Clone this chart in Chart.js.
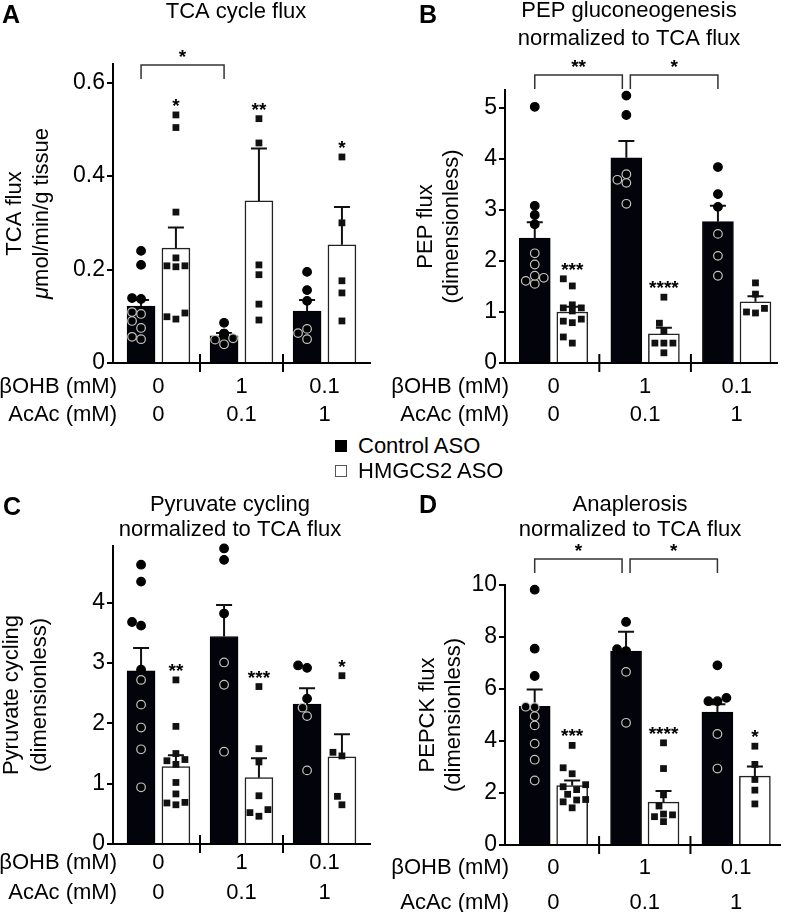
<!DOCTYPE html>
<html>
<head>
<meta charset="utf-8">
<script src="https://cdn.jsdelivr.net/npm/chart.js@4.4.1/dist/chart.umd.min.js"></script>
<style>
  body { margin: 0; background: #fff; width: 787px; height: 912px; position: relative; overflow: hidden;
         font-family: 'Liberation Sans', Arial, Helvetica, sans-serif; }
  canvas { position: absolute; }
  .leg { position: absolute; left: 335px; height: 25px; font-size: 22px; color: #000;
         display: flex; align-items: center; }
  .sq { width: 12px; height: 12px; margin-right: 11px; box-sizing: border-box; }
</style>
</head>
<body>
<canvas id="chartA" width="390" height="430" style="left:0;top:0"></canvas>
<canvas id="chartB" width="397" height="430" style="left:390px;top:0"></canvas>
<canvas id="chartC" width="390" height="432" style="left:0;top:480px"></canvas>
<canvas id="chartD" width="397" height="432" style="left:390px;top:480px"></canvas>
<div class="leg" style="top:433px"><span class="sq" style="background:#000"></span>Control ASO</div>
<div class="leg" style="top:458px"><span class="sq" style="background:#fff;border:1.5px solid #555"></span>HMGCS2 ASO</div>

<script>
const FONT = "'Liberation Sans', Arial, Helvetica, sans-serif";

// x categories (two label rows under each panel)
const groupsOHB  = ['0', '1', '0.1'];
const groupsAcAc = ['0', '0.1', '1'];

// A - TCA cycle flux
const tcaTicks   = [0, 0.2, 0.4, 0.6];
const tcaCtlMean = [0.122, 0.058, 0.111];
const tcaCtlSem  = [0.013, 0.006, 0.024];
const tcaAsoMean = [0.246, 0.347, 0.253];
const tcaAsoSem  = [0.044, 0.112, 0.081];
const tcaCtlPts  = [[0.24, 0.21, 0.137, 0.139, 0.105, 0.109, 0.09, 0.075, 0.051, 0.056],
                    [0.086, 0.063, 0.061, 0.063, 0.053, 0.05, 0.04],
                    [0.195, 0.156, 0.133, 0.073, 0.064, 0.051]];
const tcaAsoPts  = [[0.531, 0.504, 0.323, 0.225, 0.208, 0.206, 0.208, 0.107, 0.094, 0.099],
                    [0.523, 0.471, 0.21, 0.189, 0.126, 0.092],
                    [0.441, 0.3, 0.176, 0.15, 0.09]];
const tcaStars    = ['*', '**', '*'];
const tcaBrackets = [[0, 1, '*']];

// B - PEP gluconeogenesis / TCA
const pepTicks   = [0, 1, 2, 3, 4, 5];
const pepCtlMean = [2.45, 4.02, 2.77];
const pepCtlSem  = [0.31, 0.33, 0.31];
const pepAsoMean = [1.0, 0.57, 1.2];
const pepAsoSem  = [0.1, 0.12, 0.11];
const pepCtlPts  = [[5.02, 3.08, 2.9, 2.72, 2.15, 1.93, 1.67, 1.55, 1.61, 1.71],
                    [5.24, 4.86, 3.59, 3.53, 3.7, 3.12],
                    [3.84, 3.31, 3.06, 2.53, 2.1, 1.71]];
const pepAsoPts  = [[1.65, 1.51, 1.08, 1.02, 1.08, 1.14, 0.82, 0.79, 0.86, 0.39, 0.51],
                    [1.29, 0.78, 0.63, 0.39, 0.39, 0.39, 0.2],
                    [1.57, 1.35, 1.07, 0.98, 1.0]];
const pepStars    = ['***', '****', ''];
const pepBrackets = [[0, 1, '**'], [1, 2, '*']];

// C - Pyruvate cycling / TCA
const pyrTicks   = [0, 1, 2, 3, 4];
const pyrCtlMean = [2.87, 3.44, 2.32];
const pyrCtlSem  = [0.38, 0.52, 0.26];
const pyrAsoMean = [1.285, 1.1, 1.445];
const pyrAsoSem  = [0.185, 0.32, 0.375];
const pyrCtlPts  = [[4.63, 4.35, 3.68, 3.62, 2.89, 2.72, 2.31, 1.93, 1.57, 0.94],
                    [4.71, 4.9, 3.82, 3.01, 2.64, 1.53],
                    [2.96, 2.92, 2.41, 2.26, 2.12, 1.22]];
const pyrAsoPts  = [[2.72, 1.95, 1.4, 1.32, 1.38, 1.5, 1.02, 0.83, 0.69, 0.65, 0.68],
                    [2.61, 1.58, 1.36, 0.8, 0.57, 0.46, 0.52],
                    [2.79, 1.52, 1.46, 0.79, 0.65]];
const pyrStars    = ['**', '***', '*'];
const pyrBrackets = [];

// D - Anaplerosis / TCA
const pckTicks   = [0, 2, 4, 6, 8, 10];
const pckCtlMean = [5.33, 7.46, 5.11];
const pckCtlSem  = [0.65, 0.74, 0.3];
const pckAsoMean = [2.29, 1.65, 2.65];
const pckAsoSem  = [0.19, 0.43, 0.37];
const pckCtlPts  = [[9.82, 7.55, 6.5, 5.3, 5.32, 4.95, 4.6, 3.9, 3.28, 2.48],
                    [10.36, 8.58, 7.46, 7.53, 6.66, 4.7],
                    [6.91, 5.66, 5.53, 5.53, 4.27, 2.94]];
const pckAsoPts  = [[3.83, 2.97, 2.74, 2.32, 2.13, 2.24, 1.95, 1.73, 1.75, 1.66, 1.43],
                    [3.93, 2.94, 1.93, 1.5, 1.16, 0.9, 1.09, 1.19],
                    [3.8, 3.1, 2.52, 2.11, 1.58]];
const pckStars    = ['***', '****', '*'];
const pckBrackets = [[0, 1, '*'], [1, 2, '*']];

const panels = {};

// spreads the dots of one bar sideways so they don't sit on top of each other
function swarm(chart) {
    chart.data.datasets.forEach((ds, i) => {
        if (ds.type !== 'scatter') return;
        const els = chart.getDatasetMeta(i).data;
        const byGroup = {};
        els.forEach((el, j) => {
            const g = Math.round(ds.data[j].x);
            (byGroup[g] = byGroup[g] || []).push(el);
        });
        Object.values(byGroup).forEach(list => {
            const placed = [];
            list.slice().sort((a, b) => b.y - a.y).forEach(el => {
                const cx = el.x;
                for (const k of [0, -1, 1, -2, 2, -3, 3]) {
                    const x = cx + k * 4.5;
                    if (placed.every(q => Math.hypot(q.x - x, q.y - el.y) >= 8.5)) { el.x = x; break; }
                }
                placed.push(el);
            });
        });
    });
}

const decor = {
    id: 'decor',
    afterDatasetsUpdate(chart) {
        swarm(chart);
    },
    afterDatasetDraw(chart, args) {
        if (args.meta.type !== 'bar') return;
        const p = panels[chart.canvas.id];
        const mean = args.index === 2 ? p.ctlMean : p.asoMean;
        const sem = args.index === 2 ? p.ctlSem : p.asoSem;
        const ctx = chart.ctx, y = chart.scales.y;
        ctx.save();
        ctx.strokeStyle = '#111';
        ctx.lineWidth = 2;
        args.meta.data.forEach((el, g) => {
            const top = y.getPixelForValue(mean[g] + sem[g]);
            ctx.beginPath();
            ctx.moveTo(el.x, el.y);
            ctx.lineTo(el.x, top);
            ctx.moveTo(el.x - 8, top);
            ctx.lineTo(el.x + 8, top);
            ctx.stroke();
        });
        ctx.restore();
    },
    afterDraw(chart) {
        const p = panels[chart.canvas.id];
        const ctx = chart.ctx, area = chart.chartArea;
        const x = chart.scales.x, y = chart.scales.y;
        ctx.save();
        ctx.fillStyle = '#000';
        ctx.strokeStyle = '#000';

        // panel letter
        ctx.font = `bold 25px ${FONT}`;
        ctx.textAlign = 'left';
        ctx.textBaseline = 'alphabetic';
        ctx.fillText(p.letter, p.letterPos[0], p.letterPos[1]);

        // title
        ctx.font = `22px ${FONT}`;
        ctx.textAlign = 'center';
        ctx.textBaseline = 'middle';
        p.title.forEach((t, i) => ctx.fillText(t, p.titleX, p.titleY[i]));

        // y axis title (rotated)
        const cy = (area.top + area.bottom) / 2;
        p.yTitle.forEach((t, i) => {
            ctx.save();
            ctx.translate(p.yTitleX[i], cy);
            ctx.rotate(-Math.PI / 2);
            if (t.startsWith('μ')) {
                const rest = t.slice(1);
                ctx.font = `italic 22px ${FONT}`;
                const w1 = ctx.measureText('μ').width;
                ctx.font = `22px ${FONT}`;
                const w2 = ctx.measureText(rest).width;
                ctx.textAlign = 'left';
                ctx.font = `italic 22px ${FONT}`;
                ctx.fillText('μ', -(w1 + w2) / 2, 0);
                ctx.font = `22px ${FONT}`;
                ctx.fillText(rest, -(w1 + w2) / 2 + w1, 0);
            } else {
                ctx.font = `22px ${FONT}`;
                ctx.fillText(t, 0, 0);
            }
            ctx.restore();
        });

        // group separators on the x axis
        ctx.lineWidth = 2;
        for (let g = 1; g < groupsOHB.length; g++) {
            const sx = x.getPixelForValue(g - 0.5);
            ctx.beginPath();
            ctx.moveTo(sx, area.bottom - 9);
            ctx.lineTo(sx, area.bottom + 9);
            ctx.stroke();
        }

        // the two label rows
        const rows = [['βOHB (mM)', groupsOHB], ['AcAc (mM)', groupsAcAc]];
        ctx.font = `22px ${FONT}`;
        rows.forEach(([name, labels], r) => {
            const ry = area.bottom + p.rowY[r];
            ctx.textAlign = 'right';
            ctx.fillText(name, area.left + 4, ry);
            ctx.textAlign = 'center';
            labels.forEach((l, g) => ctx.fillText(l, x.getPixelForValue(g), ry));
        });

        // stars over HMGCS2 bars
        const asoMeta = chart.getDatasetMeta(3);
        ctx.font = `bold 19px ${FONT}`;
        ctx.textAlign = 'center';
        ctx.textBaseline = 'alphabetic';
        p.stars.forEach((s, g) => {
            if (!s) return;
            const top = Math.max(...p.asoPts[g], p.asoMean[g] + p.asoSem[g]);
            const sy = y.getPixelForValue(top) - 14;
            ctx.fillText(s, asoMeta.data[g].x, sy + 11);
        });

        // brackets between control bars
        const ctlMeta = chart.getDatasetMeta(2);
        p.brackets.forEach(([a, b, s]) => {
            const xa = ctlMeta.data[a].x + (p.brackets.some(o => o[1] === a) ? 4 : 0);
            const xb = ctlMeta.data[b].x - (p.brackets.some(o => o[0] === b) ? 4 : 0);
            const top = area.top + p.bracketTop;
            ctx.lineWidth = 1.5;
            ctx.strokeStyle = '#333';
            ctx.beginPath();
            ctx.moveTo(xa, top + 14);
            ctx.lineTo(xa, top);
            ctx.lineTo(xb, top);
            ctx.lineTo(xb, top + 14);
            ctx.stroke();
            ctx.fillText(s, (xa + xb) / 2, top - 13 + 11);
        });
        ctx.restore();
    }
};

function makePanel(id, p) {
    panels[id] = p;
    const side = p.side;   // bar centre offset from the group centre, in group widths
    const xy = (vals, dir) => vals.map((v, g) => ({ x: g + dir * side, y: v }));
    const pts = (arr, dir) => arr.flatMap((vals, g) => vals.map(v => ({ x: g + dir * side, y: v })));
    return new Chart(document.getElementById(id), {
        type: 'bar',
        data: {
            datasets: [
                {
                    type: 'scatter', data: pts(p.ctlPts, -1), order: 0, clip: false,
                    pointStyle: 'circle', pointRadius: 4.3, pointBorderWidth: 1.2,
                    pointBackgroundColor: '#000',
                    pointBorderColor: c => (c.raw && c.raw.y < p.ctlMean[Math.round(c.raw.x)]) ? '#c4c4c4' : '#000'
                },
                {
                    type: 'scatter', data: pts(p.asoPts, 1), order: 0, clip: false,
                    pointStyle: 'rect', pointRadius: 4.8, pointBorderWidth: 0,
                    pointBackgroundColor: '#111'
                },
                { label: 'Control ASO', data: xy(p.ctlMean, -1), grouped: false, barThickness: p.barW,
                  backgroundColor: '#03030c', borderColor: '#000', borderWidth: 1, order: 1 },
                { label: 'HMGCS2 ASO', data: xy(p.asoMean, 1), grouped: false, barThickness: p.barW,
                  backgroundColor: '#fff', borderColor: '#222', borderWidth: 1.5, order: 1 }
            ]
        },
        options: {
            responsive: false,
            animation: false,
            events: [],
            layout: { padding: p.pad },
            plugins: { legend: { display: false }, tooltip: { enabled: false } },
            scales: {
                x: {
                    type: 'linear', min: p.xMin, max: p.xMax, offset: false,
                    grid: { display: false },
                    ticks: { display: false },
                    border: { color: '#000', width: 2 },
                    afterFit: s => { s.height = 0; }
                },
                y: {
                    min: 0, max: p.max,
                    afterBuildTicks: s => { s.ticks = p.ticks.map(v => ({ value: v })); },
                    afterFit: s => { s.width = p.yWidth; },
                    grid: { drawOnChartArea: false, color: '#000', lineWidth: 2, tickLength: 6 },
                    border: { color: '#000', width: 2 },
                    ticks: { color: '#000', padding: 2, font: { family: FONT, size: 23 }, callback: v => String(v) }
                }
            }
        },
        plugins: [decor]
    });
}

makePanel('chartA', {
    letter: 'A', letterPos: [2, 23], title: ['TCA cycle flux'], titleX: 236, titleY: [12],
    yTitle: ['TCA flux', 'μmol/min/g tissue'], yTitleX: [15, 42],
    ticks: tcaTicks, max: 0.64, yWidth: 113, pad: { left: 0, right: 20, top: 64, bottom: 67 },
    xMin: -0.548, xMax: 2.548, side: 0.21,
    barW: 28, rowY: [24, 52], bracketTop: 1,
    ctlMean: tcaCtlMean, ctlSem: tcaCtlSem, asoMean: tcaAsoMean, asoSem: tcaAsoSem,
    ctlPts: tcaCtlPts, asoPts: tcaAsoPts, stars: tcaStars, brackets: tcaBrackets
});

makePanel('chartB', {
    letter: 'B', letterPos: [29, 23], title: ['PEP gluconeogenesis', 'normalized to TCA flux'], titleX: 239, titleY: [11, 39],
    yTitle: ['PEP flux', '(dimensionless)'], yTitleX: [36, 62],
    ticks: pepTicks, max: 5.35, yWidth: 115, pad: { left: 0, right: 10, top: 90, bottom: 67 },
    xMin: -0.53, xMax: 2.44, side: 0.205,
    barW: 31, rowY: [24, 52], bracketTop: -15,
    ctlMean: pepCtlMean, ctlSem: pepCtlSem, asoMean: pepAsoMean, asoSem: pepAsoSem,
    ctlPts: pepCtlPts, asoPts: pepAsoPts, stars: pepStars, brackets: pepBrackets
});

makePanel('chartC', {
    letter: 'C', letterPos: [3, 35], title: ['Pyruvate cycling', 'normalized to TCA flux'], titleX: 230, titleY: [25, 50],
    yTitle: ['Pyruvate cycling', '(dimensionless)'], yTitleX: [12, 40],
    ticks: pyrTicks, max: 4.94, yWidth: 113, pad: { left: 0, right: 20, top: 66, bottom: 68 },
    xMin: -0.548, xMax: 2.548, side: 0.21,
    barW: 28, rowY: [19, 49], bracketTop: 0,
    ctlMean: pyrCtlMean, ctlSem: pyrCtlSem, asoMean: pyrAsoMean, asoSem: pyrAsoSem,
    ctlPts: pyrCtlPts, asoPts: pyrAsoPts, stars: pyrStars, brackets: pyrBrackets
});

makePanel('chartD', {
    letter: 'D', letterPos: [29, 33], title: ['Anaplerosis', 'normalized to TCA flux'], titleX: 240, titleY: [25, 50],
    yTitle: ['PEPCK flux', '(dimensionless)'], yTitleX: [38, 64],
    ticks: pckTicks, max: 10, yWidth: 115, pad: { left: 0, right: 7, top: 105, bottom: 67 },
    xMin: -0.53, xMax: 2.48, side: 0.205,
    barW: 31, rowY: [23, 58], bracketTop: -26,
    ctlMean: pckCtlMean, ctlSem: pckCtlSem, asoMean: pckAsoMean, asoSem: pckAsoSem,
    ctlPts: pckCtlPts, asoPts: pckAsoPts, stars: pckStars, brackets: pckBrackets
});
</script>
</body>
</html>
